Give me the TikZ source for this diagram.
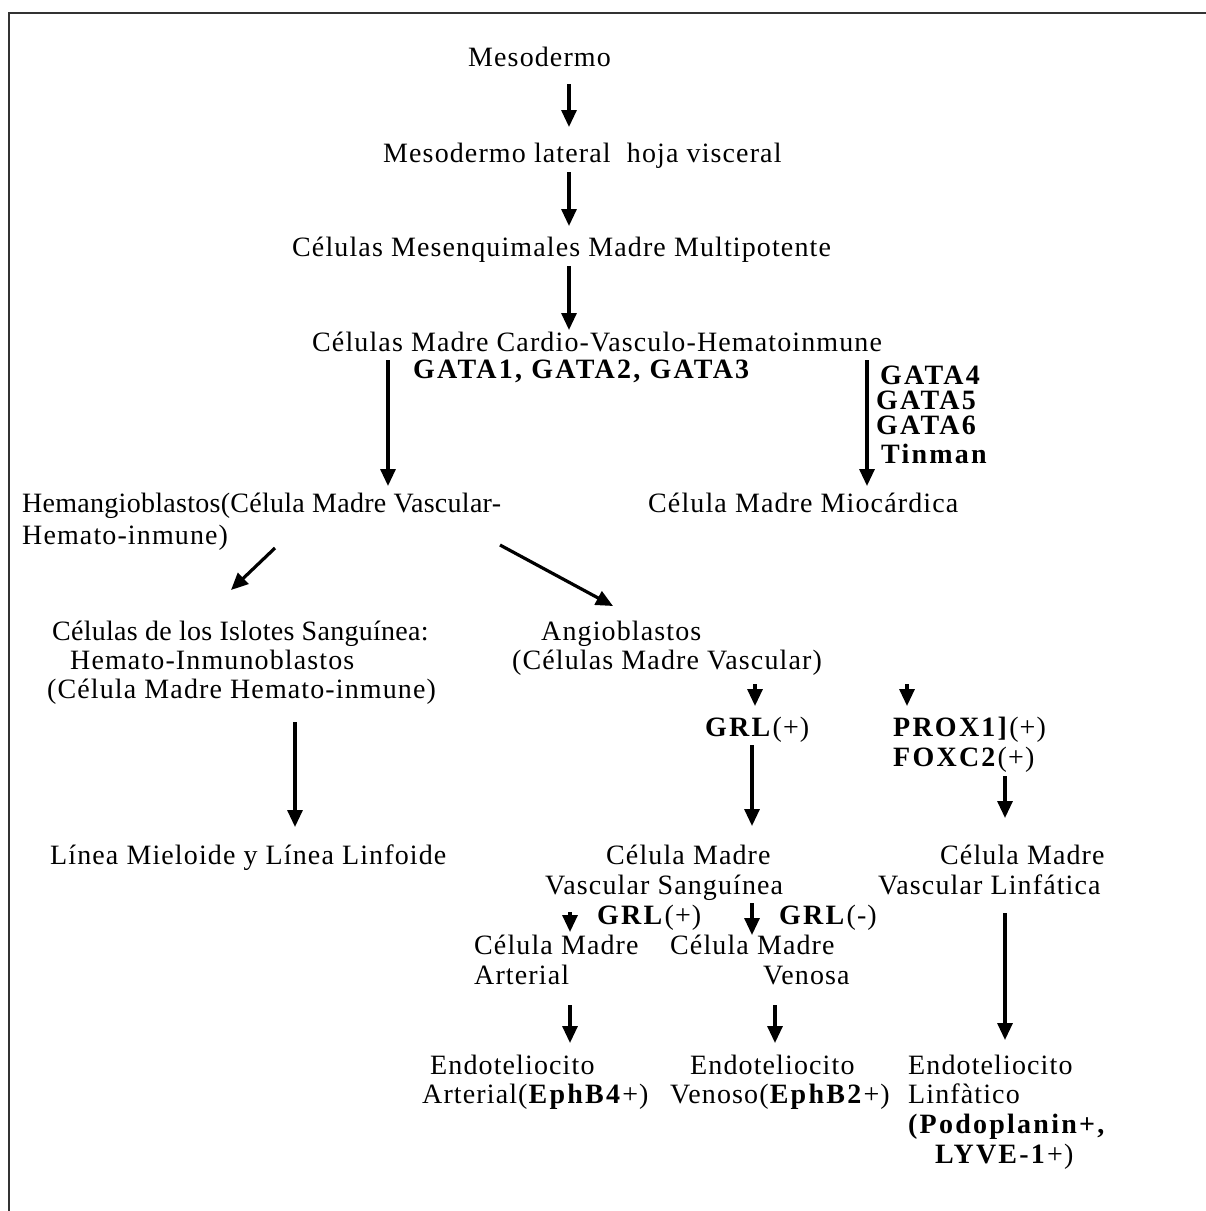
\documentclass[tikz,border=0pt]{standalone}
\usepackage{fontspec}
\setmainfont{Liberation Serif}[LetterSpace=4, BoldFeatures={LetterSpace=8}]
\usetikzlibrary{arrows.meta}
\tikzset{
  lbl/.style={inner sep=0pt, anchor=base west, font=\fontsize{28}{30}\selectfont},
  arr/.style={line width=3.2pt, -{Triangle[width=15pt,length=17pt]}},
  frame/.style={line width=1.8pt, draw=black!80}
}
\begin{document}
\begin{tikzpicture}[x=1pt,y=-1pt]
\useasboundingbox (0,0) rectangle (1206,1211);
% frame
\coordinate (fa) at (9,1211);
\coordinate (fb) at (9,13);
\coordinate (fc) at (1206,13);
\draw[frame] (fa) -- (fb) -- (fc);

% texts
\node[lbl] (t1) at (468,66) {Mesodermo};
\node[lbl] (t2) at (383,162) {Mesodermo lateral\ \ hoja visceral};
\node[lbl] (t3) at (292,256) {Células Mesenquimales Madre Multipotente};
\node[lbl] (t4) at (312,351) {Células Madre Cardio-Vasculo-Hematoinmune};
\node[lbl] (g123) at (413,378) {\bfseries GATA1, GATA2, GATA3};
\node[lbl, anchor=north west, align=left, font=\fontsize{28}{25}\selectfont\bfseries]
  (gcol) at (876,365.5) {\hspace{4pt}GATA4\\GATA5\\GATA6\\[4pt]\hspace{5pt}Tinman};
\node[lbl] (hem1) at (22,512) {\addfontfeatures{LetterSpace=1}Hemangioblastos(Célula Madre Vascular-};
\node[lbl] (hem2) at (22,544) {Hemato-inmune)};
\node[lbl] (mio) at (648,512) {Célula Madre Miocárdica};
\node[lbl] (isl1) at (52,640) {\addfontfeatures{LetterSpace=1}Células de los Islotes Sanguínea:};
\node[lbl] (isl2) at (70,669) {Hemato-Inmunoblastos};
\node[lbl] (isl3) at (47,698) {(Célula Madre Hemato-inmune)};
\node[lbl] (ang1) at (541,640) {Angioblastos};
\node[lbl] (ang2) at (512,669) {(Células Madre Vascular)};
\node[lbl] (grl1) at (705,736) {\textbf{GRL}(+)};
\node[lbl] (prox) at (893,736) {\textbf{PROX1]}(+)};
\node[lbl] (foxc) at (893,766) {\textbf{FOXC2}(+)};
\node[lbl] (lin) at (50,864) {Línea Mieloide y Línea Linfoide};
\node[lbl] (cms1) at (606,864) {Célula Madre};
\node[lbl] (cms2) at (545,894) {Vascular Sanguínea};
\node[lbl] (cml1) at (940,864) {Célula Madre};
\node[lbl] (cml2) at (878,894) {Vascular Linfática};
\node[lbl] (grl2) at (597,924) {\textbf{GRL}(+)};
\node[lbl] (grl3) at (779,924) {\textbf{GRL}(-)};
\node[lbl] (art1) at (474,954) {Célula Madre};
\node[lbl] (art2) at (474,984) {Arterial};
\node[lbl] (ven1) at (670,954) {Célula Madre};
\node[lbl] (ven2) at (763,984) {Venosa};
\node[lbl] (ea1) at (430,1074) {Endoteliocito};
\node[lbl] (ea2) at (422,1103) {Arterial(\textbf{EphB4}+)};
\node[lbl] (ev1) at (690,1074) {Endoteliocito};
\node[lbl] (ev2) at (670,1103) {Venoso(\textbf{EphB2}+)};
\node[lbl] (el1) at (908,1074) {Endoteliocito};
\node[lbl] (el2) at (908,1103) {Linfàtico};
\node[lbl] (el3) at (908,1133) {\bfseries (Podoplanin+,};
\node[lbl] (el4) at (935,1163) {\textbf{LYVE-1}+)};

% arrow end points
\coordinate (a1s) at (569,84);   \coordinate (a1e) at (569,127);
\coordinate (a2s) at (569,172);  \coordinate (a2e) at (569,226);
\coordinate (a3s) at (569,266);  \coordinate (a3e) at (569,330);
\coordinate (a4s) at (388,360);  \coordinate (a4e) at (388,486);
\coordinate (a5s) at (867,360);  \coordinate (a5e) at (867,486);
\coordinate (a6s) at (275,548);  \coordinate (a6e) at (231,590);
\coordinate (a7s) at (500,545);  \coordinate (a7e) at (613,606);
\coordinate (a8s) at (755,684);  \coordinate (a8e) at (755,706);
\coordinate (a9s) at (907,684);  \coordinate (a9e) at (907,706);
\coordinate (a10s) at (752,745); \coordinate (a10e) at (752,826);
\coordinate (a11s) at (1005,776);\coordinate (a11e) at (1005,818);
\coordinate (a12s) at (295,722); \coordinate (a12e) at (295,827);
\coordinate (a13s) at (570,912); \coordinate (a13e) at (570,932);
\coordinate (a14s) at (752,903); \coordinate (a14e) at (752,935);
\coordinate (a15s) at (570,1005);\coordinate (a15e) at (570,1043);
\coordinate (a16s) at (775,1005);\coordinate (a16e) at (775,1043);
\coordinate (a17s) at (1005,913);\coordinate (a17e) at (1005,1040);

\foreach \i in {1,...,17} {\draw[arr] (a\i s) -- (a\i e);}
\end{tikzpicture}
\end{document}
